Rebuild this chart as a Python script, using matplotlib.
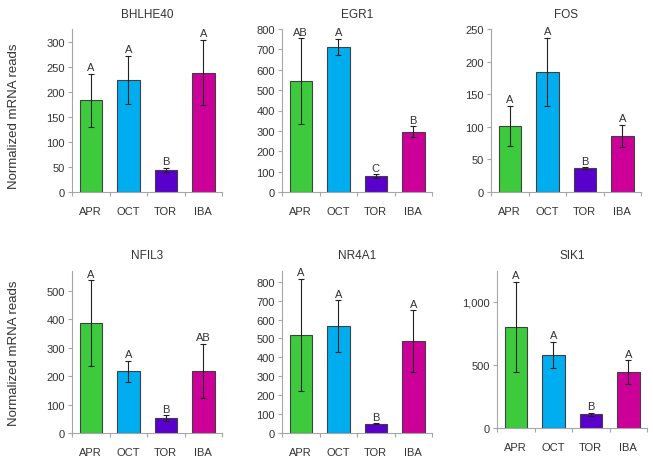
import matplotlib
matplotlib.use("Agg")
import matplotlib.pyplot as plt
import numpy as np

plt.rcParams['font.family'] = ['Liberation Sans', 'DejaVu Sans']

groups = ["APR", "OCT", "TOR", "IBA"]
colors = ["#3DCB3D", "#00AEEF", "#5A00CC", "#CC0099"]

genes = ["BHLHE40", "EGR1", "FOS", "NFIL3", "NR4A1", "SIK1"]
bhlhe40_mean = [184, 224, 44, 239]
bhlhe40_err = [53, 48, 4, 65]
bhlhe40_lett = ["A", "A", "B", "A"]
egr1_mean = [544, 711, 79, 295]
egr1_err = [210, 41, 8, 27]
egr1_lett = ["AB", "A", "C", "B"]
fos_mean = [101, 184, 37, 86]
fos_err = [31, 52, 1, 17]
fos_lett = ["A", "A", "B", "A"]
nfil3_mean = [387, 217, 52, 219]
nfil3_err = [150, 37, 10, 95]
nfil3_lett = ["A", "A", "B", "AB"]
nr4a1_mean = [518, 566, 49, 485]
nr4a1_err = [297, 136, 3, 164]
nr4a1_lett = ["A", "A", "B", "A"]
sik1_mean = [803, 582, 108, 442]
sik1_err = [358, 102, 14, 95]
sik1_lett = ["A", "A", "B", "A"]

means = [bhlhe40_mean, egr1_mean, fos_mean, nfil3_mean, nr4a1_mean, sik1_mean]
errs = [bhlhe40_err, egr1_err, fos_err, nfil3_err, nr4a1_err, sik1_err]
letts = [bhlhe40_lett, egr1_lett, fos_lett, nfil3_lett, nr4a1_lett, sik1_lett]
ymax = [326, 800, 250, 570, 857, 1246]
yticks = [[0, 50, 100, 150, 200, 250, 300],
          [0, 100, 200, 300, 400, 500, 600, 700, 800],
          [0, 50, 100, 150, 200, 250],
          [0, 100, 200, 300, 400, 500],
          [0, 100, 200, 300, 400, 500, 600, 700, 800],
          [0, 500, 1000]]
ytick_labels = [None, None, None, None, None, ["0", "500", "1,000"]]

W, H = 653, 464
fig = plt.figure(figsize=(W / 100, H / 100), dpi=100)

# pixel boxes: (left, top, right, bottom)
boxes = [(72, 30, 222, 193), (282, 30, 432, 193), (491, 30, 641, 193),
         (72, 272, 222, 434), (282, 272, 432, 434), (497, 272, 647, 429)]

txt = "#333333"
axc = "#A6A6A6"
fs = 8
for i, g in enumerate(genes):
    l, t, r, b = boxes[i]
    ax = fig.add_axes([l / W, 1 - b / H, (r - l) / W, (b - t) / H])
    x = np.arange(4)
    ax.bar(x, means[i], width=0.6, color=colors, edgecolor="#404040", linewidth=0.8, zorder=2)
    ax.errorbar(x, means[i], yerr=errs[i], fmt="none", ecolor="#222222",
                elinewidth=0.8, capsize=2, capthick=0.8, zorder=3)
    for xi, m, e, s in zip(x, means[i], errs[i], letts[i]):
        ax.annotate(s, (xi, m + e), xytext=(0, 1.2), textcoords="offset points",
                    ha="center", va="bottom", fontsize=fs, color=txt)
    ax.set_xlim(-0.5, 3.5)
    ax.set_ylim(0, ymax[i])
    ax.set_yticks(yticks[i])
    if ytick_labels[i]:
        ax.set_yticklabels(ytick_labels[i])
    ax.set_xticks(x)
    ax.set_xticklabels(groups)
    ax.set_xticks(np.arange(-0.5, 4, 1), minor=True)
    ax.tick_params(axis="x", which="major", length=0, pad=10, labelsize=fs, labelcolor=txt)
    ax.tick_params(axis="x", which="minor", length=3, color=axc, width=0.8)
    ax.tick_params(axis="y", length=3, color=axc, width=0.8, labelsize=fs, labelcolor=txt, pad=2)
    for s in ["top", "right"]:
        ax.spines[s].set_visible(False)
    for s in ["left", "bottom"]:
        ax.spines[s].set_color(axc)
        ax.spines[s].set_linewidth(0.8)
    ax.set_title(g, fontsize=8.5, color=txt, pad=9)
    ax.set_facecolor("none")

for yc in (116, 353):
    fig.text(14 / W, 1 - yc / H, "Normalized mRNA reads", rotation=90, ha="center",
             va="center", fontsize=9.5, color=txt)

fig.savefig("out.png", dpi=100)
